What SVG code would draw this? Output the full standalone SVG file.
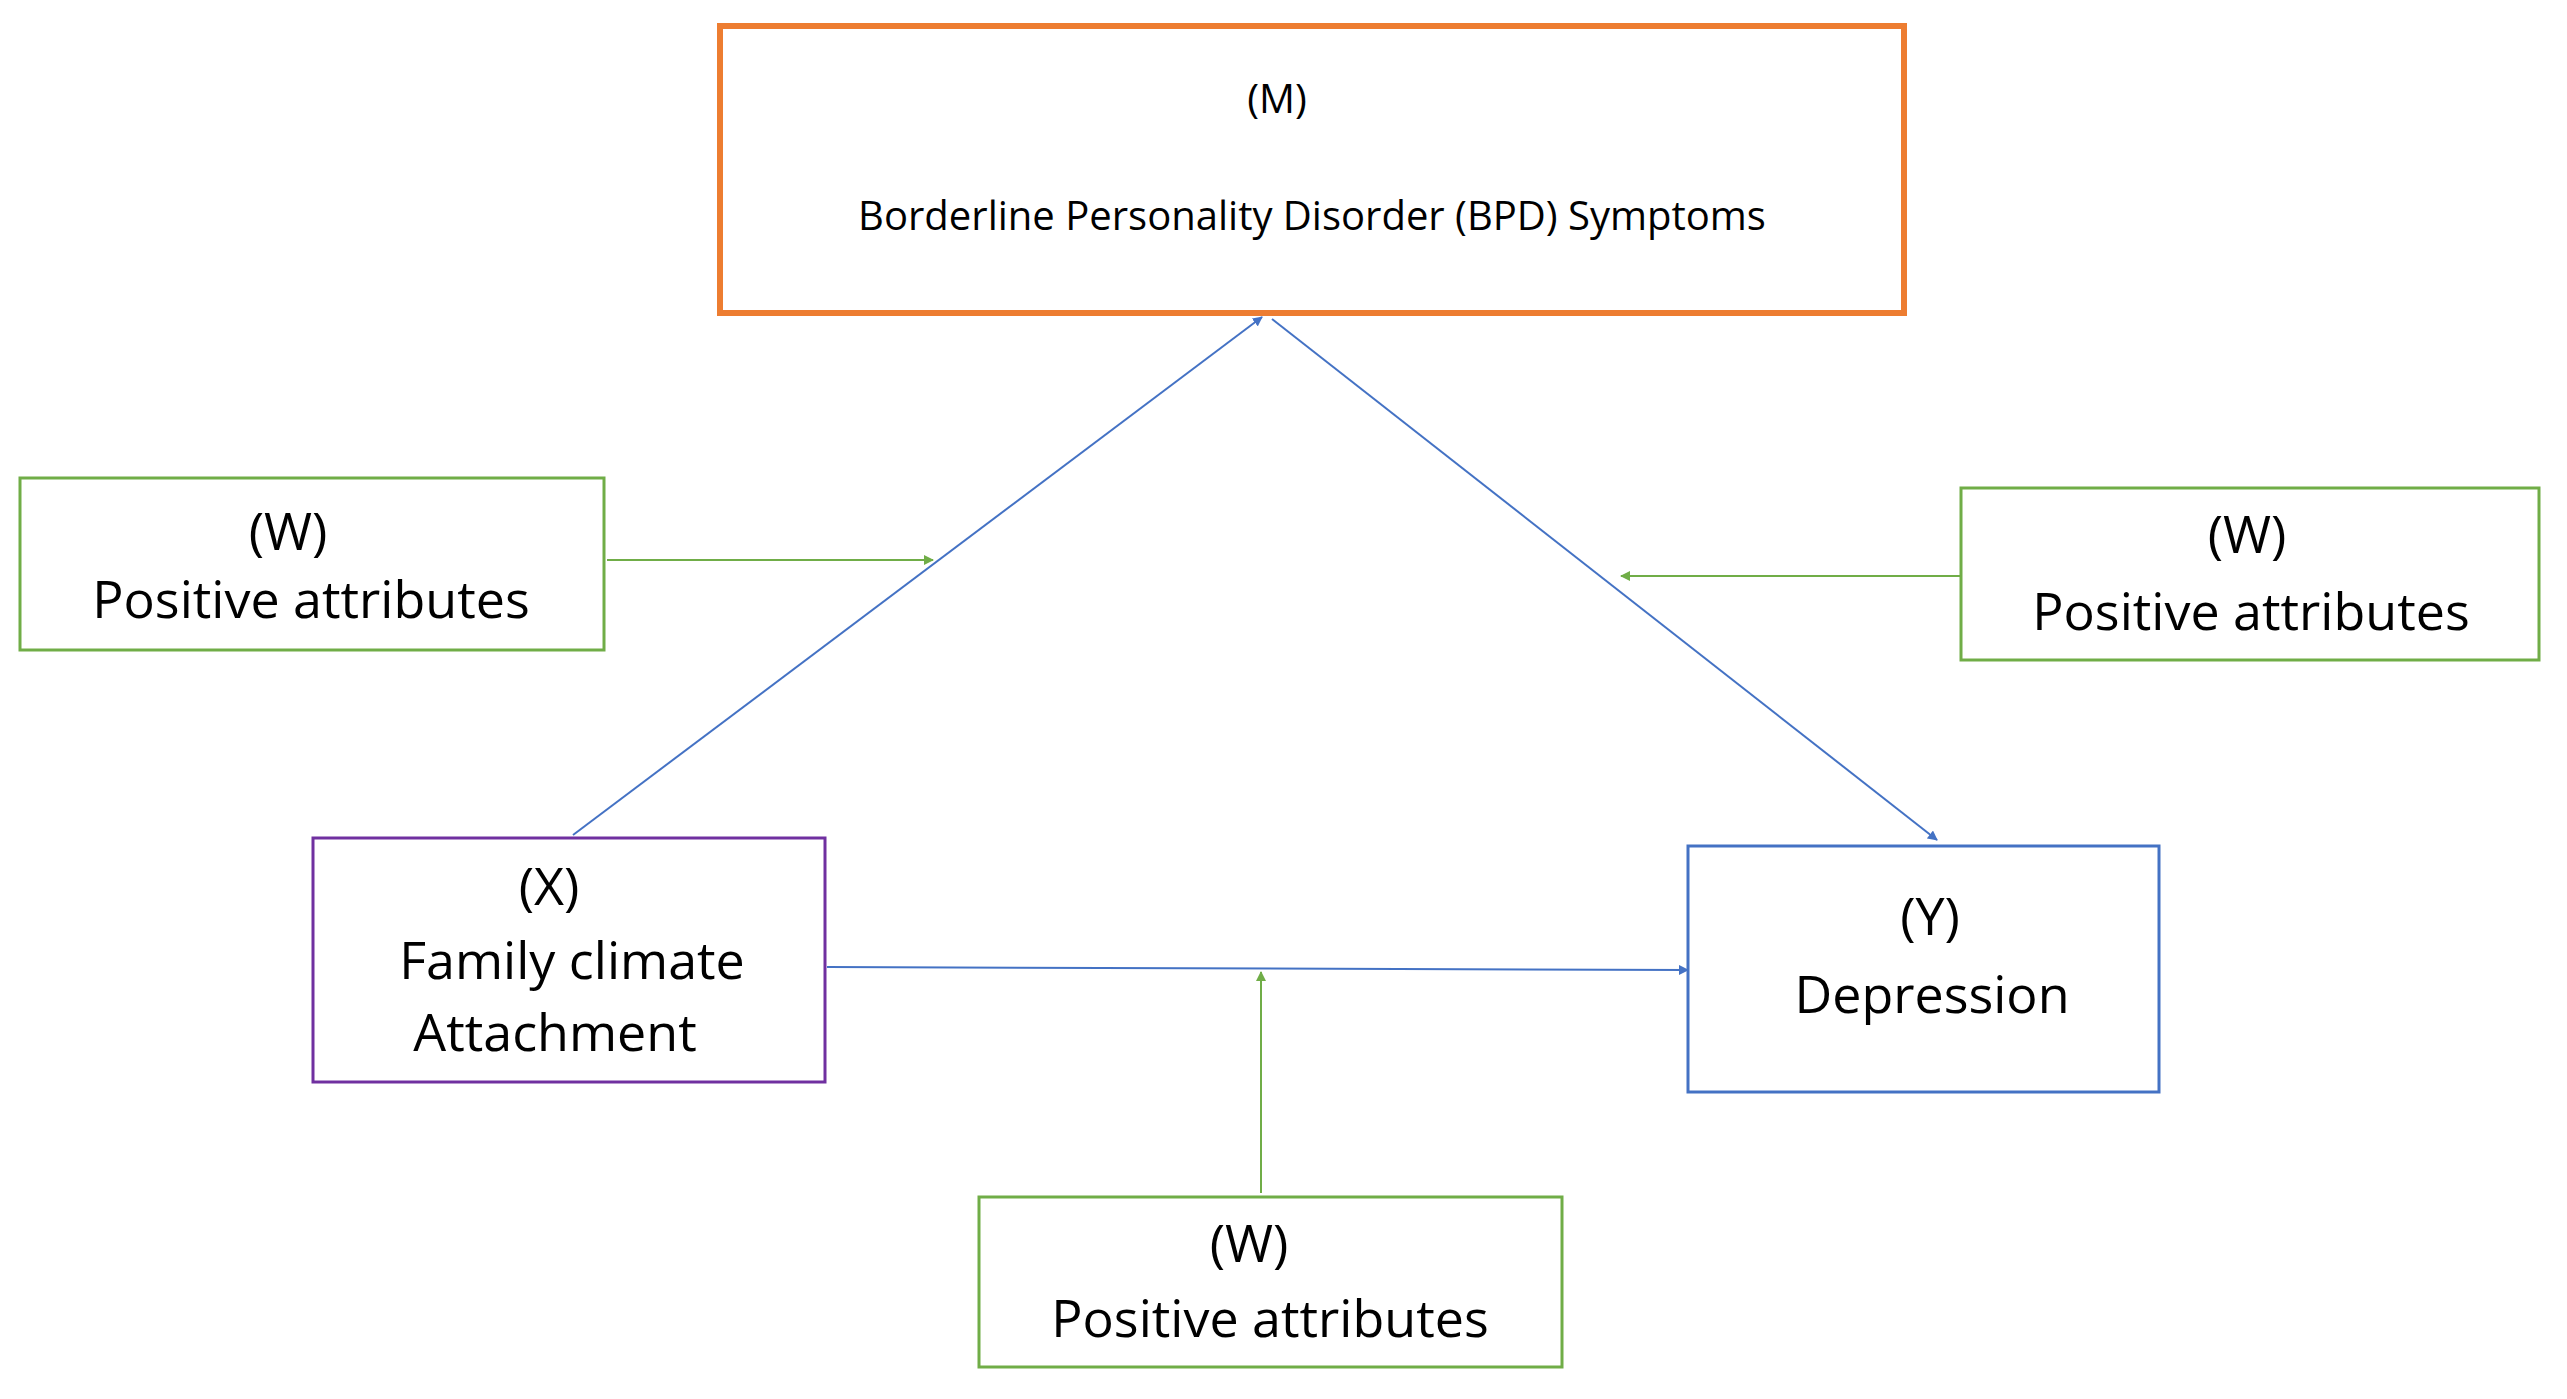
<svg xmlns="http://www.w3.org/2000/svg" width="2567" height="1399" viewBox="0 0 2567 1399">
<style>
text{font-family:"Open Sans","Liberation Sans",sans-serif;fill:#000;text-anchor:middle}
.big{font-size:52px}
.g{fill:#fff;stroke:#70ad47;stroke-width:3}
.bl{stroke:#4472c4;stroke-width:2;fill:none}
.gl{stroke:#70ad47;stroke-width:2;fill:none}
</style>
<defs>
<marker id="ab" markerWidth="10" markerHeight="10" refX="9" refY="5" orient="auto" markerUnits="userSpaceOnUse" viewBox="0 0 10 10"><path d="M0,0L10,5L0,10z" fill="#4472c4"/></marker>
<marker id="ag" markerWidth="10" markerHeight="10" refX="9" refY="5" orient="auto" markerUnits="userSpaceOnUse" viewBox="0 0 10 10"><path d="M0,0L10,5L0,10z" fill="#70ad47"/></marker>
</defs>
<rect width="2567" height="1399" fill="#fff"/>
<g id="connectors">
<line class="bl" x1="573" y1="835" x2="1262" y2="317" marker-end="url(#ab)"/>
<line class="bl" x1="1272" y1="319" x2="1937" y2="840" marker-end="url(#ab)"/>
<line class="bl" x1="827" y1="967" x2="1688" y2="970" marker-end="url(#ab)"/>
<line class="gl" x1="607" y1="560" x2="933" y2="560" marker-end="url(#ag)"/>
<line class="gl" x1="1960" y1="576" x2="1621" y2="576" marker-end="url(#ag)"/>
<line class="gl" x1="1261" y1="1193" x2="1261" y2="972" marker-end="url(#ag)"/>
</g>
<g id="M"><rect x="720" y="26" width="1184" height="287" fill="#fff" stroke="#ed7d31" stroke-width="6"/>
<text x="1277" y="113" font-size="40">(M)</text>
<text x="1312" y="230" font-size="40">Borderline Personality Disorder (BPD) Symptoms</text></g>
<g id="W1"><rect class="g" x="20" y="478" width="584" height="172"/>
<text class="big" x="288" y="550">(W)</text><text class="big" x="311" y="618">Positive attributes</text></g>
<g id="W2"><rect class="g" x="1961" y="488" width="578" height="172"/>
<text class="big" x="2247" y="553">(W)</text><text class="big" x="2251" y="630">Positive attributes</text></g>
<g id="W3"><rect class="g" x="979" y="1197" width="583" height="170"/>
<text class="big" x="1249" y="1262">(W)</text><text class="big" x="1270" y="1337">Positive attributes</text></g>
<g id="X"><rect x="313" y="838" width="512" height="244" fill="#fff" stroke="#7030a0" stroke-width="3"/>
<text class="big" x="549" y="905">(X)</text><text class="big" x="572" y="979">Family climate</text><text class="big" x="555" y="1051">Attachment</text></g>
<g id="Y"><rect x="1688" y="846" width="471" height="246" fill="#fff" stroke="#4472c4" stroke-width="3"/>
<text class="big" x="1930" y="935">(Y)</text><text class="big" x="1932" y="1013">Depression</text></g>
</svg>
